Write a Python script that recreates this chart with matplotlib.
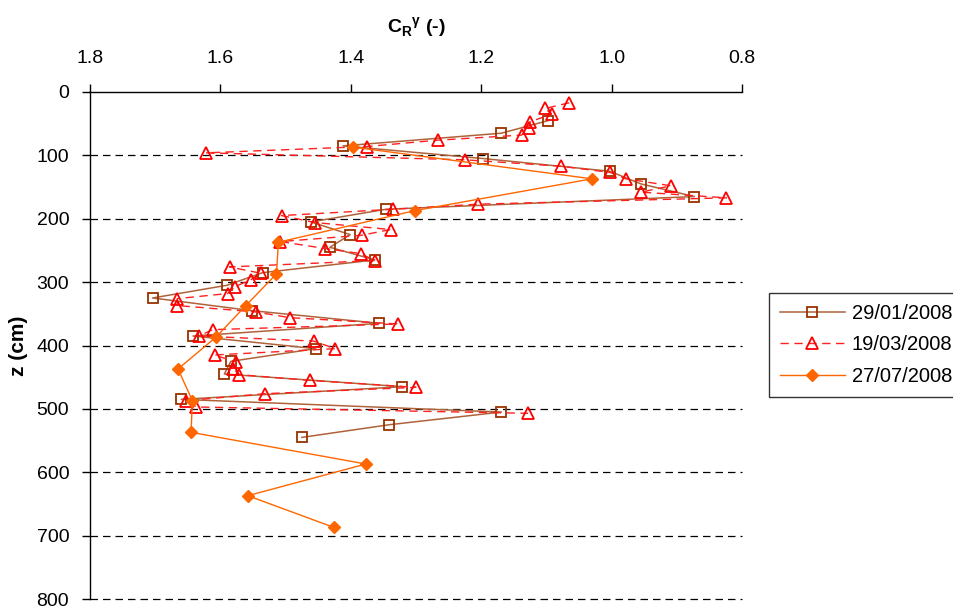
import matplotlib
matplotlib.use("Agg")
import matplotlib.pyplot as plt
from matplotlib.ticker import FixedLocator

plt.rcParams['font.family'] = ['Liberation Sans', 'DejaVu Sans']

# 29/01/2008
z_jan = [45, 65, 85, 105, 125, 145, 165, 185, 205, 225, 245, 265, 285, 305, 325,
         345, 365, 385, 405, 425, 445, 465, 485, 505, 525, 545]
c_jan = [1.097, 1.169, 1.412, 1.197, 1.003, 0.955, 0.873, 1.346, 1.461, 1.401, 1.432,
         1.363, 1.535, 1.590, 1.704, 1.552, 1.356, 1.642, 1.454, 1.584, 1.594, 1.321,
         1.660, 1.169, 1.341, 1.475]

# 19/03/2008
z_mar = [17, 26, 35, 47, 57, 68, 76, 86, 96, 107, 117, 127, 137, 148, 158, 167, 177,
         185, 195, 206, 217, 226, 236, 247, 255, 266, 276, 286, 296, 307, 318, 326,
         337, 347, 356, 366, 375, 385, 393, 405, 415, 426, 437, 446, 455, 466, 476,
         487, 497, 507]
c_mar = [1.065, 1.102, 1.092, 1.125, 1.127, 1.138, 1.267, 1.375, 1.622, 1.225, 1.078,
         1.002, 0.978, 0.909, 0.955, 0.824, 1.205, 1.335, 1.506, 1.455, 1.339, 1.383,
         1.508, 1.439, 1.385, 1.363, 1.586, 1.538, 1.553, 1.577, 1.589, 1.666, 1.666,
         1.546, 1.494, 1.328, 1.612, 1.633, 1.457, 1.424, 1.609, 1.576, 1.580, 1.571,
         1.463, 1.300, 1.531, 1.653, 1.637, 1.128]

# 27/07/2008
z_jul = [87, 137, 187, 237, 287, 337, 387, 437, 487, 537, 587, 637, 687]
c_jul = [1.396, 1.030, 1.301, 1.511, 1.514, 1.561, 1.607, 1.665, 1.643, 1.645, 1.377,
         1.558, 1.426]

labels = ['29/01/2008', '19/03/2008', '27/07/2008']
x_ticks = [1.8, 1.6, 1.4, 1.2, 1.0, 0.8]
y_ticks = [0, 100, 200, 300, 400, 500, 600, 700, 800]

fig = plt.figure(figsize=(9.54, 6.08), dpi=100)
ax = fig.add_axes([90 / 954, 1 - 599 / 608, (742 - 90) / 954, (599 - 92) / 608])

for y in y_ticks[1:]:
    ax.axhline(y, color='black', lw=0.9, ls=(0, (6, 4)), zorder=1, clip_on=False)

ax.plot(c_jan, z_jan, color='#B0633A', lw=1.1, marker='s', ms=7, mfc='none',
        mec='#993300', mew=1.3, label=labels[0], zorder=3)
ax.plot(c_mar, z_mar, color='#FF2020', lw=1.0, ls=(0, (6, 4)), marker='^', ms=8.5,
        mfc='none', mec='#FF0000', mew=1.3, label=labels[1], zorder=4)
ax.plot(c_jul, z_jul, color='#FF6600', lw=1.0, marker='D', ms=6.5, mfc='#FF6600',
        mec='#FF6600', label=labels[2], zorder=5)

ax.set_xlim(1.8, 0.8)
ax.set_ylim(800, 0)
ax.xaxis.set_major_locator(FixedLocator(x_ticks))
ax.yaxis.set_major_locator(FixedLocator(y_ticks))
ax.set_xticklabels([f'{v:.1f}' for v in x_ticks])
ax.set_yticklabels([str(v) for v in y_ticks])
ax.xaxis.tick_top()
ax.xaxis.set_label_position('top')
ax.tick_params(axis='both', direction='out', length=6, width=1, labelsize=14,
               color='black')
ax.tick_params(axis='x', pad=12)
ax.tick_params(axis='y', pad=9)

ax.spines['right'].set_visible(False)
ax.spines['bottom'].set_visible(False)
ax.spines['top'].set_linewidth(1)
ax.spines['left'].set_linewidth(1)

ax.set_xlabel(r'C$_\mathregular{R}$$^\mathregular{\gamma}$ (-)', fontsize=14,
              fontweight='bold', labelpad=12)
ax.set_ylabel('z (cm)', fontsize=15, fontweight='bold', labelpad=6)

leg = ax.legend(loc='center left', bbox_to_anchor=(769 / 954, 1 - 345 / 608),
                bbox_transform=fig.transFigure, frameon=True, fancybox=False,
                edgecolor='black', fontsize=14.5, handlelength=3.2,
                borderpad=0.55, labelspacing=0.62, handletextpad=0.35,
                borderaxespad=0)
leg.get_frame().set_linewidth(1)

fig.savefig('out.png', dpi=100)
